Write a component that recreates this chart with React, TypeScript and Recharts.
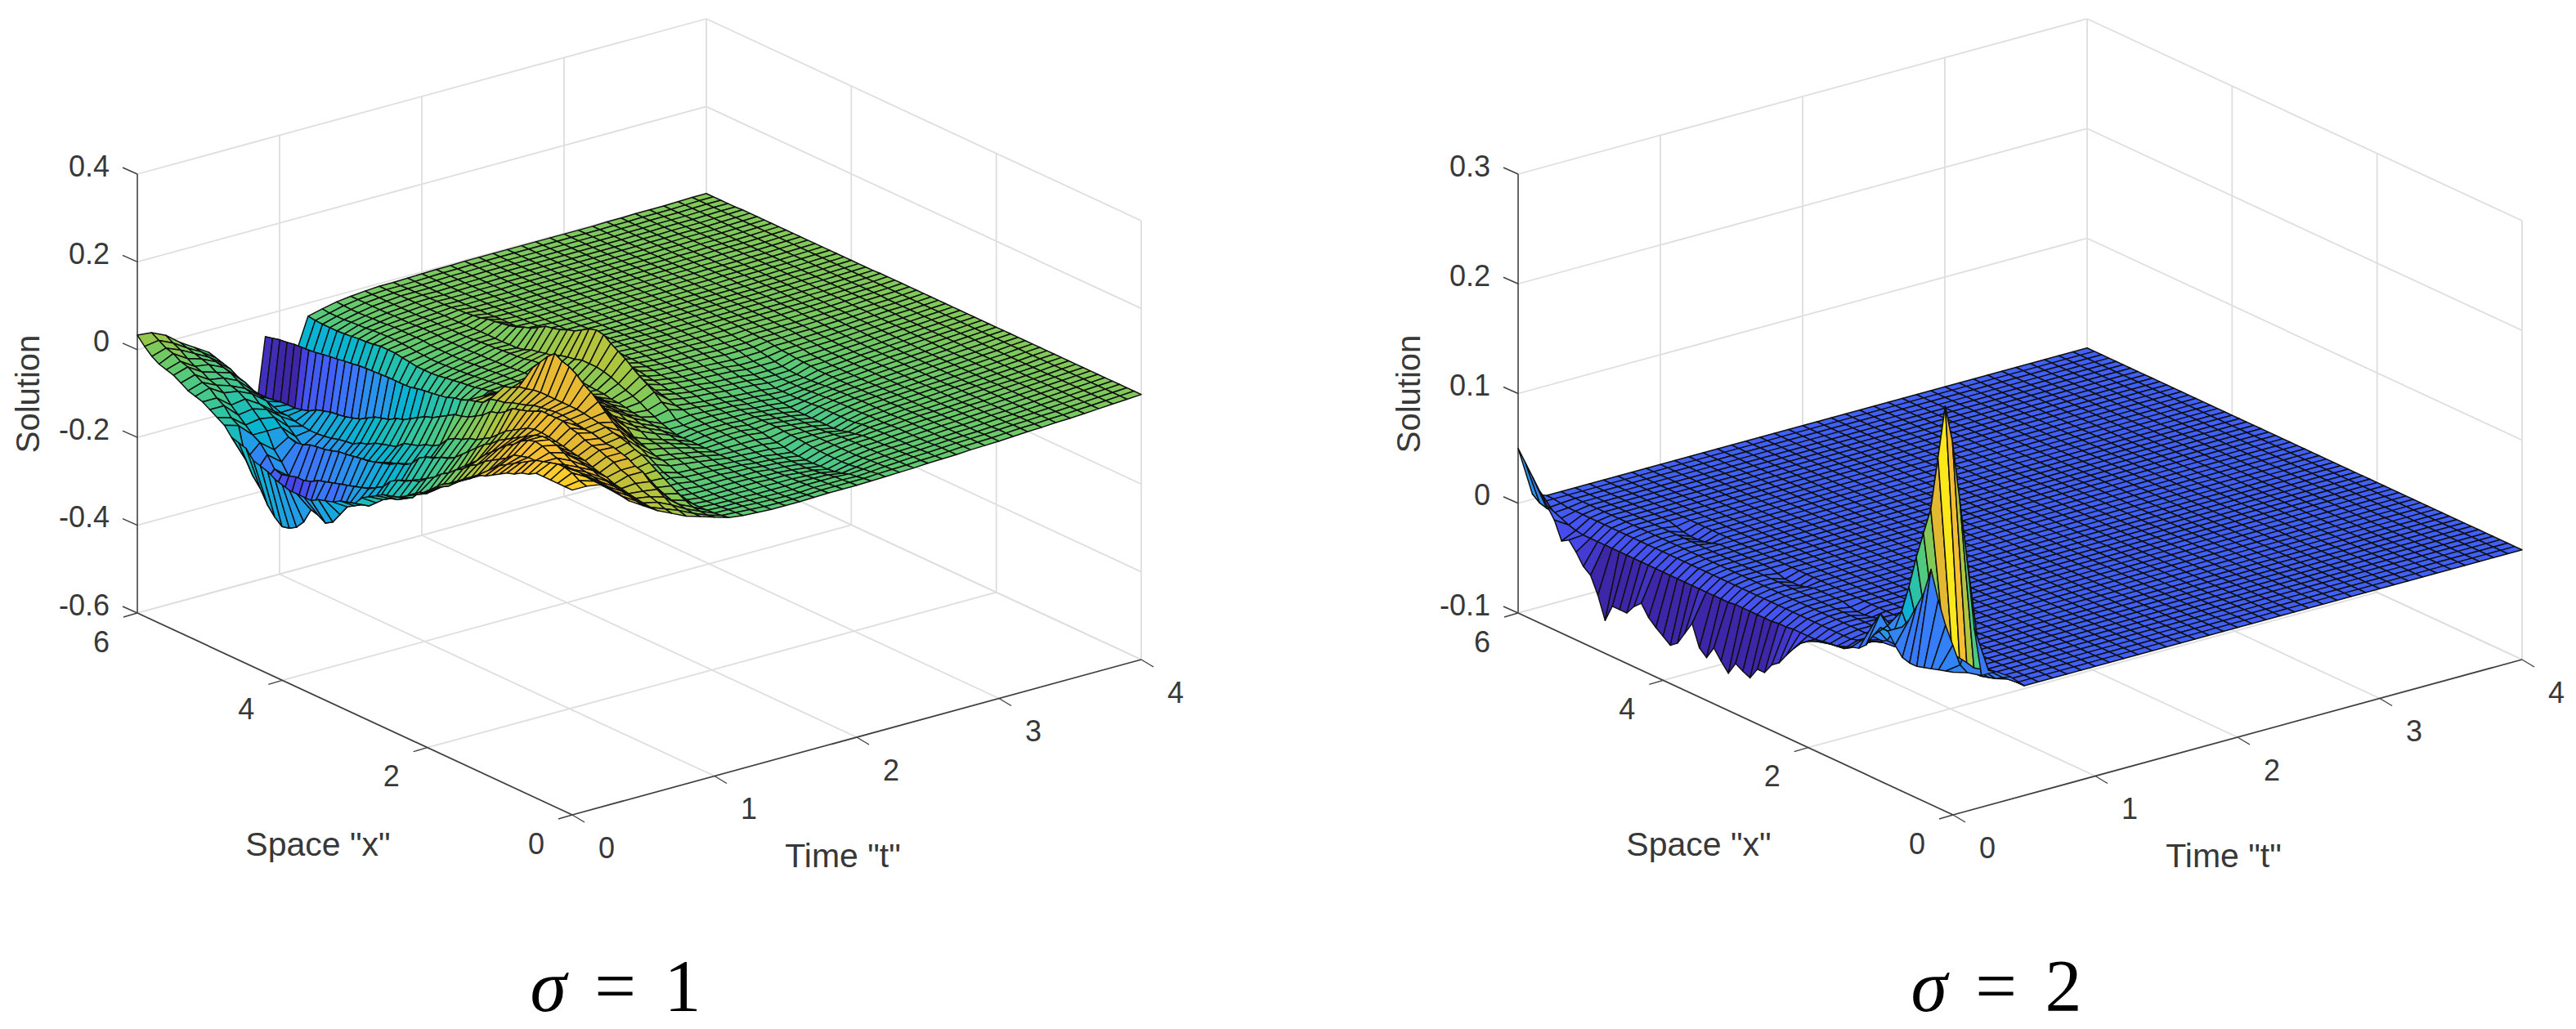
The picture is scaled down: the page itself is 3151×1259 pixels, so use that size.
import { ScatterChart, Scatter, XAxis, YAxis, ReferenceLine, ReferenceDot } from "recharts";

const timeGrid = [0, 0.1, 0.2, 0.3, 0.4, 0.5, 0.6, 0.7, 0.8, 0.9, 1, 1.1, 1.2, 1.3, 1.4, 1.5, 1.6, 1.7, 1.8, 1.9, 2, 2.1, 2.2, 2.3, 2.4, 2.5, 2.6, 2.7, 2.8, 2.9, 3, 3.1, 3.2, 3.3, 3.4, 3.5, 3.6, 3.7, 3.8, 3.9, 4];
const spaceGrid = [0, 0.1, 0.2, 0.3, 0.4, 0.5, 0.6, 0.7, 0.8, 0.9, 1, 1.1, 1.2, 1.3, 1.4, 1.5, 1.6, 1.7, 1.8, 1.9, 2, 2.1, 2.2, 2.3, 2.4, 2.5, 2.6, 2.7, 2.8, 2.9, 3, 3.1, 3.2, 3.3, 3.4, 3.5, 3.6, 3.7, 3.8, 3.9, 4, 4.1, 4.2, 4.3, 4.4, 4.5, 4.6, 4.7, 4.8, 4.9, 5, 5.1, 5.2, 5.3, 5.4, 5.5, 5.6, 5.7, 5.8, 5.9, 6];
const timeTicks = [0, 1, 2, 3, 4];
const spaceTicks = [0, 2, 4, 6];
const solutionTicksA = [-0.6, -0.4, -0.2, 0, 0.2, 0.4];
const solutionTicksB = [-0.1, 0, 0.1, 0.2, 0.3];

// sigma = 1, one row per time step, columns follow spaceGrid (blocks of ten)
const solutionA = [
  [.14,.14,.14,.14,.14,.14,.13,.125,.115,.11, .10,.09,.08,.075,.06,.05,.035,.025,.015,0, -.015,-.03,-.04,-.05,-.06,-.065,-.07,-.08,-.09,-.10, -.12,-.125,-.13,-.14,-.145,-.15,-.16,-.16,-.16,-.16, -.155,-.15,-.14,-.135,-.13,-.11,-.105,-.10,-.08,-.07, -.06,-.05,-.045,-.04,-.03,-.02,-.015,-.01,0,.015, .033],
  [.14,.145,.155,.16,.16,.155,.15,.145,.135,.125, .115,.105,.095,.08,.06,.05,.035,.025,.01,-.005, -.015,-.03,-.045,-.05,-.07,-.08,-.09,-.095,-.105,-.12, -.135,-.14,-.15,-.16,-.185,-.21,-.22,-.21,-.205,-.24, -.26,-.27,-.274,-.26,-.24,-.21,-.19,-.16,-.09,-.08, -.06,-.05,-.035,-.03,-.02,-.01,-.005,.005,.01,.02, .03],
  [.135,.135,.137,.14,.14,.135,.13,.127,.125,.12, .12,.115,.11,.095,.085,.075,.065,.05,.04,.025, .015,0,-.01,-.025,-.035,-.05,-.055,-.065,-.07,-.08, -.10,-.11,-.12,-.125,-.13,-.135,-.14,-.145,-.15,-.155, -.165,-.17,-.17,-.175,-.18,-.175,-.15,-.13,-.12,-.105, -.09,-.075,-.055,-.045,-.04,-.03,-.025,-.015,-.003,.005, .015],
  [.11,.11,.112,.115,.115,.115,.115,.118,.125,.13, .137,.14,.135,.125,.11,.10,.085,.07,.055,.035, .02,0,-.015,-.025,-.04,-.055,-.06,-.075,-.08,-.09, -.11,-.12,-.125,-.135,-.145,-.15,-.165,-.175,-.18,-.185, -.195,-.2,-.21,-.21,-.21,-.2,-.175,-.155,-.12,-.10, -.085,-.07,-.06,-.055,-.045,-.04,-.03,-.025,-.02,-.015, -.01],
  [.08,.083,.087,.09,.093,.097,.10,.103,.11,.12, .13,.135,.135,.13,.12,.11,.10,.09,.08,.065, .055,.04,.025,.01,-.005,-.015,-.02,-.03,-.035,-.045, -.065,-.075,-.08,-.09,-.095,-.10,-.105,-.107,-.11,-.113, -.115,-.12,-.125,-.127,-.13,-.137,-.14,-.135,-.12,-.105, -.095,-.09,-.075,-.07,-.06,-.05,-.045,-.04,-.037,-.033, -.03],
  [.06,.063,.067,.07,.073,.077,.08,.087,.09,.095, .097,.10,.103,.102,.10,.10,.09,.08,.07,.055, .04,.03,.015,0,-.01,-.025,-.03,-.04,-.045,-.055, -.075,-.085,-.09,-.10,-.105,-.11,-.12,-.125,-.13,-.14, -.145,-.15,-.16,-.163,-.165,-.17,-.168,-.165,-.15,-.135, -.12,-.115,-.10,-.095,-.09,-.08,-.075,-.065,-.06,-.055, -.05],
  [.04,.04,.042,.045,.048,.052,.055,.062,.065,.07, .077,.08,.083,.087,.09,.093,.095,.095,.09,.08, .07,.06,.045,.03,.02,.01,.005,-.005,-.01,-.02, -.04,-.05,-.055,-.065,-.07,-.075,-.09,-.095,-.10,-.105, -.115,-.12,-.13,-.132,-.135,-.14,-.143,-.145,-.145,-.143, -.14,-.135,-.135,-.13,-.125,-.12,-.115,-.11,-.11,-.105, -.10],
  [.025,.028,.035,.04,.045,.055,.065,.07,.08,.085, .092,.095,.10,.108,.112,.12,.12,.12,.12,.112, .105,.10,.095,.08,.07,.065,.05,.04,.03,.024, .02,.01,0,-.01,-.015,-.025,-.035,-.045,-.05,-.06, -.065,-.07,-.08,-.09,-.095,-.10,-.103,-.105,-.11,-.115, -.125,-.13,-.134,-.134,-.135,-.138,-.14,-.14,-.14,-.14, -.14],
  [.01,.015,.02,.03,.04,.05,.065,.07,.08,.085, .09,.09,.095,.10,.10,.10,.095,.09,.085,.08, .07,.065,.055,.05,.04,.03,.02,.01,0,-.01, -.02,-.035,-.045,-.07,-.075,-.08,-.085,-.09,-.115,-.12, -.125,-.13,-.16,-.17,-.175,-.18,-.2,-.21,-.215,-.22, -.24,-.24,-.245,-.25,-.28,-.32,-.33,-.325,-.31,-.305, -.30],
  [0,0,.002,.005,.007,.013,.02,.027,.033,.04, .047,.05,.06,.067,.07,.075,.077,.08,.083,.085, .085,.082,.08,.077,.07,.065,.06,.053,.05,.045, .03,.025,.02,.013,.01,.003,0,-.003,-.005,-.008, -.012,-.013,-.013,-.013,-.014,-.015,-.016,-.017,-.02,-.022, -.025,-.027,-.03,-.033,-.035,-.036,-.037,-.04,-.042,-.046, -.05],
  [-.01,-.013,-.012,-.01,-.003,.005,.015,.025,.035,.045, .055,.06,.067,.072,.075,.08,.082,.085,.088,.09, .09,.09,.09,.09,.09,.088,.083,.08,.07,.065, .04,.03,.02,0,-.01,-.02,-.03,-.033,-.035,-.04, -.043,-.045,-.05,-.053,-.055,-.06,-.06,-.06,-.065,-.068, -.07,-.073,-.075,-.08,-.083,-.085,-.09,-.09,-.09,-.09, -.09],
  [-.02,-.023,-.025,-.026,-.027,-.027,-.026,-.025,-.024,-.02, -.02,-.01,.006,.03,.05,.063,.075,.09,.106,.12, .13,.145,.155,.16,.17,.155,.135,.115,.08,.05, .03,.023,.018,.01,-.01,-.025,-.03,-.035,-.045,-.05, -.055,-.063,-.07,-.073,-.078,-.08,-.083,-.087,-.09,-.097, -.103,-.11,-.113,-.117,-.12,-.123,-.125,-.125,-.123,-.12, -.12],
  [-.024,-.025,-.026,-.028,-.029,-.03,-.03,-.028,-.025,-.02, -.015,-.01,0,.01,.02,.03,.04,.05,.06,.07, .078,.085,.088,.09,.095,.088,.08,.07,.055,.045, .03,.015,.008,0,-.004,-.009,-.012,-.016,-.018,-.02, -.023,-.025,-.028,-.03,-.03,-.03,-.027,-.025,-.022,-.022, -.022,-.025,-.027,-.028,-.03,-.032,-.033,-.033,-.033,-.032, -.03],
  [-.026,-.027,-.027,-.028,-.03,-.03,-.03,-.029,-.028,-.025, -.022,-.02,-.012,-.007,-.005,.002,.008,.015,.03,.037, .042,.05,.052,.055,.06,.057,.053,.045,.035,.025, .015,.008,.003,0,-.003,-.006,-.008,-.011,-.013,-.015, -.017,-.018,-.02,-.021,-.022,-.022,-.021,-.02,-.018,-.017, -.016,-.016,-.017,-.018,-.02,-.021,-.022,-.024,-.024,-.024, -.022],
  [-.028,-.029,-.029,-.03,-.03,-.03,-.03,-.029,-.028,-.026, -.024,-.022,-.016,-.012,-.01,-.004,0,.002,.012,.017, .022,.03,.033,.036,.04,.039,.035,.03,.023,.017, .01,.005,.002,0,-.001,-.004,-.006,-.007,-.008,-.01, -.011,-.012,-.014,-.015,-.015,-.015,-.015,-.014,-.012,-.012, -.012,-.012,-.012,-.013,-.015,-.015,-.016,-.017,-.017,-.016, -.015],
  [-.028,-.03,-.03,-.031,-.032,-.031,-.03,-.029,-.028,-.026, -.025,-.024,-.02,-.018,-.016,-.012,-.009,-.008,-.002,.002, .005,.01,.012,.015,.018,.02,.02,.018,.015,.012, .01,.008,.005,.004,.001,0,-.002,-.003,-.005,-.006, -.007,-.008,-.008,-.009,-.01,-.01,-.01,-.01,-.008,-.008, -.008,-.009,-.01,-.01,-.01,-.011,-.011,-.011,-.011,-.011, -.011],
  [-.028,-.03,-.031,-.032,-.032,-.031,-.03,-.03,-.03,-.029, -.028,-.028,-.025,-.023,-.022,-.02,-.019,-.018,-.014,-.012, -.009,-.006,-.004,-.002,.002,.005,.006,.01,.011,.012, .014,.015,.016,.016,.015,.014,.012,.01,.006,.004, .003,.002,0,-.001,-.002,-.004,-.005,-.005,-.005,-.006, -.006,-.006,-.007,-.008,-.008,-.008,-.008,-.008,-.008,-.008, -.008],
  [-.027,-.029,-.031,-.032,-.032,-.032,-.032,-.032,-.03,-.03, -.03,-.03,-.03,-.03,-.03,-.03,-.03,-.03,-.03,-.03, -.025,-.02,-.012,-.005,.005,.012,.018,.025,.032,.037, .04,.04,.04,.035,.032,.028,.02,.017,.013,.01, .003,-.001,-.001,-.002,-.002,-.002,-.002,-.003,-.003,-.004, -.004,-.004,-.005,-.005,-.005,-.005,-.005,-.005,-.006,-.006, -.006],
  [-.026,-.027,-.029,-.03,-.031,-.032,-.032,-.033,-.034,-.034, -.034,-.034,-.032,-.031,-.03,-.028,-.027,-.026,-.025,-.025, -.025,-.02,-.005,.005,.02,.03,.04,.052,.065,.075, .085,.097,.10,.095,.085,.075,.07,.063,.058,.055, .045,.035,.03,.023,.018,.015,.012,.01,.005,.003, .001,0,-.002,-.003,-.003,-.004,-.004,-.005,-.005,-.006, -.006],
  [-.026,-.027,-.029,-.03,-.032,-.034,-.035,-.036,-.036,-.036, -.036,-.035,-.034,-.032,-.03,-.026,-.025,-.024,-.024,-.023, -.021,-.018,-.014,-.012,-.006,-.002,0,.006,.009,.012, .016,.018,.02,.022,.022,.02,.018,.015,.013,.01, .007,.006,.004,.003,.002,0,0,0,-.001,-.002, -.002,-.003,-.004,-.004,-.004,-.005,-.005,-.005,-.005,-.005, -.005],
  [-.026,-.027,-.029,-.03,-.033,-.036,-.038,-.04,-.04,-.04, -.04,-.04,-.036,-.033,-.03,-.026,-.025,-.024,-.024,-.023, -.021,-.02,-.017,-.016,-.012,-.009,-.008,-.004,-.002,0, .004,.005,.006,.008,.008,.008,.008,.007,.005,.004, .003,.002,.001,0,0,-.001,-.001,-.002,-.002,-.002, -.003,-.003,-.003,-.003,-.004,-.004,-.004,-.004,-.004,-.004, -.004],
  [-.025,-.027,-.03,-.032,-.038,-.042,-.044,-.045,-.046,-.046, -.045,-.044,-.04,-.037,-.034,-.03,-.029,-.028,-.026,-.025, -.023,-.022,-.021,-.02,-.016,-.014,-.012,-.008,-.007,-.006, -.003,-.002,-.001,0,0,.001,.001,.001,.001,.001, 0,-.001,-.002,-.002,-.002,-.002,-.002,-.002,-.003,-.003, -.003,-.003,-.003,-.003,-.003,-.003,-.003,-.003,-.003,-.003, -.003],
  [-.024,-.025,-.028,-.03,-.033,-.035,-.036,-.036,-.036,-.035, -.034,-.032,-.03,-.029,-.028,-.026,-.026,-.026,-.026,-.026, -.025,-.024,-.023,-.022,-.018,-.016,-.014,-.012,-.011,-.008, -.006,-.005,-.004,-.002,-.001,-.001,0,0,0,-.001, -.001,-.001,-.002,-.002,-.002,-.002,-.002,-.002,-.002,-.002, -.003,-.003,-.003,-.003,-.003,-.003,-.003,-.003,-.003,-.003, -.003],
  [-.023,-.024,-.025,-.026,-.027,-.029,-.03,-.03,-.03,-.03, -.03,-.03,-.03,-.03,-.03,-.03,-.03,-.03,-.03,-.03, -.03,-.028,-.027,-.026,-.022,-.02,-.018,-.014,-.012,-.01, -.008,-.007,-.006,-.004,-.003,-.002,-.001,-.001,-.001,-.001, -.002,-.002,-.002,-.002,-.002,-.002,-.002,-.002,-.002,-.002, -.002,-.002,-.002,-.002,-.002,-.002,-.002,-.002,-.002,-.002, -.002],
  [-.022,-.023,-.023,-.024,-.025,-.025,-.026,-.026,-.026,-.027, -.028,-.03,-.032,-.033,-.034,-.034,-.034,-.034,-.034,-.033, -.032,-.03,-.029,-.028,-.024,-.022,-.02,-.016,-.014,-.012, -.009,-.008,-.006,-.004,-.003,-.003,-.002,-.002,-.002,-.002, -.002,-.002,-.002,-.002,-.002,-.002,-.002,-.002,-.002,-.002, -.002,-.002,-.002,-.002,-.002,-.002,-.002,-.002,-.002,-.002, -.002],
  [-.02,-.021,-.021,-.022,-.023,-.023,-.024,-.025,-.025,-.026, -.03,-.033,-.038,-.04,-.04,-.04,-.04,-.04,-.04,-.038, -.036,-.034,-.032,-.03,-.026,-.024,-.022,-.018,-.016,-.014, -.01,-.008,-.006,-.005,-.004,-.004,-.003,-.003,-.002,-.002, -.002,-.002,-.002,-.002,-.002,-.002,-.002,-.002,-.002,-.002, -.002,-.002,-.002,-.002,-.002,-.002,-.002,-.002,-.002,-.002, -.002],
  [-.019,-.02,-.02,-.021,-.022,-.022,-.022,-.022,-.022,-.023, -.024,-.025,-.028,-.03,-.03,-.03,-.03,-.03,-.032,-.033, -.034,-.034,-.034,-.034,-.03,-.028,-.026,-.022,-.02,-.016, -.012,-.01,-.008,-.006,-.005,-.004,-.003,-.003,-.002,-.002, -.002,-.002,-.002,-.002,-.002,-.002,-.002,-.002,-.002,-.002, -.002,-.002,-.002,-.002,-.002,-.002,-.002,-.002,-.002,-.002, -.002],
  [-.018,-.018,-.018,-.019,-.02,-.02,-.02,-.02,-.02,-.021, -.022,-.022,-.022,-.023,-.024,-.024,-.024,-.025,-.026,-.027, -.028,-.03,-.03,-.03,-.03,-.028,-.026,-.022,-.02,-.016, -.012,-.01,-.009,-.006,-.005,-.004,-.003,-.003,-.002,-.002, -.002,-.002,-.002,-.002,-.002,-.002,-.002,-.002,-.002,-.002, -.002,-.002,-.002,-.002,-.002,-.002,-.002,-.002,-.002,-.002, -.002],
  [-.016,-.016,-.016,-.017,-.018,-.018,-.018,-.018,-.018,-.018, -.019,-.02,-.02,-.02,-.02,-.02,-.021,-.021,-.022,-.023, -.024,-.026,-.027,-.028,-.028,-.027,-.025,-.022,-.018,-.015, -.012,-.01,-.009,-.007,-.005,-.004,-.003,-.003,-.002,-.002, -.002,-.002,-.002,-.002,-.002,-.002,-.002,-.002,-.002,-.002, -.002,-.002,-.002,-.002,-.002,-.002,-.002,-.002,-.002,-.002, -.002],
  [-.015,-.015,-.015,-.016,-.016,-.016,-.016,-.016,-.016,-.016, -.016,-.017,-.017,-.018,-.018,-.018,-.019,-.019,-.02,-.02, -.02,-.02,-.02,-.02,-.018,-.017,-.016,-.014,-.013,-.01, -.008,-.007,-.006,-.005,-.004,-.003,-.003,-.003,-.002,-.002, -.002,-.002,-.002,-.002,-.002,-.002,-.002,-.002,-.002,-.002, -.002,-.002,-.002,-.002,-.002,-.002,-.002,-.002,-.002,-.002, -.002],
  [-.014,-.014,-.014,-.015,-.015,-.015,-.015,-.015,-.015,-.015, -.016,-.016,-.016,-.016,-.016,-.017,-.017,-.017,-.018,-.018, -.018,-.018,-.018,-.018,-.017,-.016,-.015,-.012,-.011,-.01, -.008,-.007,-.006,-.005,-.004,-.003,-.003,-.003,-.002,-.002, -.002,-.002,-.002,-.002,-.002,-.002,-.002,-.002,-.002,-.002, -.002,-.002,-.002,-.002,-.002,-.002,-.002,-.002,-.002,-.002, -.002],
  [-.012,-.012,-.012,-.013,-.013,-.013,-.013,-.013,-.013,-.014, -.014,-.014,-.014,-.014,-.014,-.015,-.015,-.015,-.015,-.015, -.015,-.015,-.015,-.015,-.014,-.014,-.013,-.011,-.01,-.009, -.007,-.006,-.006,-.005,-.004,-.003,-.003,-.002,-.002,-.002, -.002,-.002,-.002,-.002,-.002,-.002,-.002,-.002,-.002,-.002, -.002,-.002,-.002,-.002,-.002,-.002,-.002,-.002,-.002,-.002, -.002],
  [-.01,-.01,-.01,-.011,-.011,-.011,-.011,-.011,-.011,-.012, -.012,-.012,-.012,-.012,-.012,-.013,-.013,-.013,-.013,-.013, -.013,-.013,-.012,-.012,-.012,-.011,-.011,-.01,-.009,-.008, -.007,-.006,-.006,-.005,-.004,-.003,-.003,-.002,-.002,-.002, -.002,-.002,-.002,-.002,-.002,-.002,-.002,-.002,-.002,-.002, -.002,-.002,-.002,-.002,-.002,-.002,-.002,-.002,-.002,-.002, -.002],
  [-.009,-.009,-.009,-.009,-.01,-.01,-.01,-.01,-.01,-.01, -.01,-.01,-.01,-.011,-.011,-.011,-.011,-.011,-.011,-.011, -.011,-.01,-.01,-.01,-.01,-.009,-.009,-.008,-.007,-.007, -.006,-.005,-.005,-.004,-.003,-.003,-.003,-.002,-.002,-.002, -.002,-.002,-.002,-.001,-.001,-.001,-.001,-.001,-.001,-.001, -.001,-.001,-.001,-.001,-.001,-.001,-.001,-.001,-.001,-.001, -.001],
  [-.007,-.007,-.007,-.008,-.008,-.008,-.008,-.008,-.008,-.008, -.008,-.008,-.009,-.009,-.009,-.009,-.009,-.009,-.009,-.009, -.009,-.009,-.008,-.008,-.008,-.007,-.007,-.006,-.006,-.006, -.005,-.004,-.004,-.003,-.003,-.003,-.002,-.002,-.001,-.001, -.001,-.001,-.001,-.001,-.001,-.001,-.001,-.001,-.001,-.001, -.001,-.001,-.001,-.001,-.001,-.001,-.001,-.001,-.001,-.001, -.001],
  [-.006,-.006,-.006,-.006,-.006,-.006,-.006,-.006,-.006,-.006, -.006,-.007,-.007,-.007,-.007,-.007,-.007,-.007,-.007,-.007, -.007,-.007,-.006,-.006,-.006,-.005,-.005,-.005,-.004,-.004, -.004,-.003,-.003,-.003,-.002,-.002,-.001,-.001,-.001,-.001, -.001,-.001,-.001,-.001,-.001,-.001,-.001,-.001,0,0, 0,0,0,0,0,0,0,0,0,0, 0],
  [-.004,-.004,-.004,-.004,-.004,-.004,-.004,-.004,-.004,-.004, -.005,-.005,-.005,-.005,-.005,-.005,-.005,-.005,-.005,-.005, -.005,-.004,-.004,-.004,-.004,-.003,-.003,-.003,-.003,-.003, -.002,-.002,-.002,-.001,-.001,-.001,-.001,-.001,0,0, 0,0,0,0,0,0,0,0,0,0, 0,0,0,0,0,0,0,0,0,0, 0],
  [-.002,-.002,-.002,-.002,-.002,-.002,-.002,-.002,-.002,-.003, -.003,-.003,-.003,-.003,-.003,-.003,-.003,-.003,-.003,-.002, -.002,-.002,-.002,-.002,-.002,-.002,-.002,-.002,-.001,-.001, -.001,-.001,0,0,0,0,0,0,0,0, 0,0,0,0,0,0,0,0,0,0, 0,0,0,0,0,0,0,0,0,0, 0],
  [0,0,0,0,0,0,0,0,0,-.001, -.001,-.001,-.001,-.001,-.001,-.001,-.001,-.001,-.001,0, 0,0,0,0,0,0,0,0,0,0, 0,0,.001,.001,.001,.001,.001,.001,.001,.001, .001,.001,.001,.001,.001,.001,.001,.001,.001,.001, .001,.001,.001,.001,.001,.001,.001,.001,.001,.001, .001],
  [.002,.002,.002,.002,.002,.002,.002,.002,.002,.002, .002,.002,.002,.002,.002,.002,.002,.002,.002,.002, .002,.002,.002,.002,.002,.002,.002,.002,.002,.002, .002,.002,.002,.002,.002,.002,.002,.002,.002,.002, .002,.002,.002,.002,.002,.002,.002,.002,.002,.002, .002,.002,.002,.002,.002,.002,.002,.002,.002,.002, .002],
  [.004,.004,.004,.004,.004,.004,.004,.004,.004,.004, .004,.004,.004,.004,.004,.004,.004,.004,.004,.004, .004,.004,.004,.004,.004,.004,.004,.004,.004,.004, .004,.004,.004,.004,.004,.004,.004,.003,.003,.003, .003,.003,.003,.003,.003,.003,.003,.003,.003,.003, .003,.003,.003,.003,.003,.003,.002,.002,.002,.002, .002],
];

// sigma = 2, flat everywhere past the first few time steps
const flatRow = [0,0,0,0,0,0,0,0,0,0, 0,0,0,0,0,0,0,0,0,0, 0,0,0,0,0,0,0,0,0,0, 0,0,0,0,0,0,0,0,0,0, 0,0,0,0,0,0,0,0,0,0, 0,0,0,0,0,0,0,0,0,0, 0];
const solutionB = [
  [.03,.028,.026,.024,.022,.02,.02,.022,.03,.04, .04,.03,.018,.012,.01,.006,.005,.004,.003,0, -.003,-.008,-.016,-.025,-.035,-.04,-.05,-.05,-.061,-.058, -.054,-.066,-.058,-.049,-.061,-.055,-.036,-.048,-.06,-.065, -.06,-.055,-.049,-.039,-.045,-.054,-.054,-.054,-.07,-.05, -.035,-.03,-.02,-.012,-.016,0,.01,.02,.03,.04, .05],
  [.026,.03,.045,.06,.08,.105,.08,.065,.05,.04, .03,.035,.043,.03,.015,.005,0,-.004,-.005,-.006, -.007,-.008,-.008,-.008,-.008,-.009,-.009,-.01,-.01,-.01, -.01,-.01,-.01,-.011,-.011,-.011,-.011,-.011,-.011,-.011, -.011,-.011,-.011,-.011,-.011,-.011,-.011,-.011,-.011,-.011, -.011,-.011,-.011,-.011,-.01,-.008,-.005,-.003,-.002,0, .005],
  [.02,.06,.12,.17,.22,.25,.20,.15,.125,.10, .07,.045,.025,.012,.008,.005,.003,0,-.002,-.002, -.002,-.002,-.002,-.002,-.002,-.002,-.002,-.002,-.002,-.002, -.002,-.002,-.002,-.002,-.002,-.002,-.002,-.002,-.002,-.002, -.002,-.002,-.002,-.002,-.002,-.002,-.002,-.002,-.002,-.002, -.002,-.002,-.002,-.002,-.002,-.002,-.002,-.002,-.001,0, 0],
  [.02,.018,.016,.014,.016,.017,.018,.017,.014,.01, .007,.006,.004,.002,0,0,0,0,0,0, 0,0,0,0,0,0,0,0,0,0, 0,0,0,0,0,0,0,0,0,0, 0,0,0,0,0,0,0,0,0,0, 0,0,0,0,0,0,0,0,0,0, 0],
  [.012,.008,.004,.002,0,0,0,0,0,0, 0,0,0,0,0,0,0,0,0,0, 0,0,0,0,0,0,0,0,0,0, 0,0,0,0,0,0,0,0,0,0, 0,0,0,0,0,0,0,0,0,0, 0,0,0,0,0,0,0,0,0,0, 0],
  [0,0,0,0,0,0,0,0,0,0, 0,0,0,0,0,0,0,0,0,0, 0,-.002,-.003,-.003,-.002,0,0,0,0,0, -.002,-.004,-.004,-.004,-.002,0,0,0,0,0, 0,0,0,-.002,-.004,-.005,-.005,-.004,-.002,0, 0,0,0,0,0,0,0,0,0,0, 0],
  flatRow, flatRow, flatRow, flatRow, flatRow, flatRow, flatRow, flatRow, flatRow, flatRow, flatRow, flatRow, flatRow, flatRow,
  flatRow, flatRow, flatRow, flatRow, flatRow, flatRow, flatRow, flatRow, flatRow, flatRow, flatRow, flatRow, flatRow, flatRow, flatRow,
  flatRow, flatRow, flatRow, flatRow, flatRow, flatRow,
];

const PARULA = ["#3e26a8", "#4747eb", "#3e6fff", "#2796eb", "#08b5d0", "#31c69f", "#62ca6e", "#a9c73f", "#e2b832", "#fdc032", "#f9fb0e"];

const hexToRgb = (h: string) => [1, 3, 5].map((k) => parseInt(h.slice(k, k + 2), 16));

function parula(frac: number) {
  const f = Math.min(1, Math.max(0, frac)) * (PARULA.length - 1);
  const lo = Math.min(PARULA.length - 2, Math.floor(f));
  const a = hexToRgb(PARULA[lo]);
  const b = hexToRgb(PARULA[lo + 1]);
  const c = a.map((v, k) => Math.round(v + (b[k] - v) * (f - lo)));
  return `rgb(${c[0]},${c[1]},${c[2]})`;
}

const CHART_W = 1575;
const CHART_H = 1259;
const FONT = '"Liberation Sans", Arial, sans-serif';
const TEXT = "#383838";

type PanelProps = {
  left: number;
  frontX: number;
  rows: number[][];
  zTicks: number[];
  colorLow: number;
  colorHigh: number;
  sigma: string;
  rowOrder: number[];
};

// back to front; the sigma = 2 spike needs its yellow face over the row in front of it
const descendingRows = [39, 38, 37, 36, 35, 34, 33, 32, 31, 30, 29, 28, 27, 26, 25, 24, 23, 22, 21, 20, 19, 18, 17, 16, 15, 14, 13, 12, 11, 10, 9, 8, 7, 6, 5, 4, 3, 2, 1, 0];
const spikeRows = [39, 38, 37, 36, 35, 34, 33, 32, 31, 30, 29, 28, 27, 26, 25, 24, 23, 22, 21, 20, 19, 18, 17, 16, 15, 14, 13, 12, 11, 10, 9, 8, 7, 6, 5, 4, 3, 1, 2, 0];

function TextAt({ x, y, value, size = 36, anchor = "middle", rotate }: any) {
  return (
    <ReferenceDot
      x={x}
      y={y}
      r={0}
      ifOverflow="visible"
      shape={(p: any) => (
        <text
          x={p.cx}
          y={p.cy}
          fontFamily={FONT}
          fontSize={size}
          fill={TEXT}
          textAnchor={anchor}
          dominantBaseline="central"
          transform={rotate ? `rotate(${rotate} ${p.cx} ${p.cy})` : undefined}
        >
          {value}
        </text>
      )}
    />
  );
}

function SurfacePanel({ left, frontX, rows, zTicks, colorLow, colorHigh, sigma, rowOrder }: PanelProps) {
  const zMin = zTicks[0];
  const zMax = zTicks[zTicks.length - 1];

  // fixed view of the box, orthographic like the MATLAB default
  const project = (t: number, x: number, z: number) => ({
    sx: frontX + (t / 4) * 696 - (x / 6) * 532,
    sy: 997 - (t / 4) * 190 - (x / 6) * 247 - ((z - zMin) / (zMax - zMin)) * 537,
  });

  const vertices = timeGrid.flatMap((t, i) =>
    spaceGrid.map((x, j) => project(t, x, rows[i][j] ?? 0))
  );

  const renderMesh = (props: any) => {
    const pts = props.points;
    const n = spaceGrid.length;
    const cells = [];
    for (const i of rowOrder) {
      for (let j = n - 2; j >= 0; j--) {
        const a = pts[i * n + j];
        const b = pts[(i + 1) * n + j];
        const c = pts[(i + 1) * n + j + 1];
        const d = pts[i * n + j + 1];
        const value = rows[i][j] ?? 0;
        cells.push(
          <polygon
            key={`${i}-${j}`}
            points={`${a.x},${a.y} ${b.x},${b.y} ${c.x},${c.y} ${d.x},${d.y}`}
            fill={parula((value - colorLow) / (colorHigh - colorLow))}
            stroke="#101010"
            strokeWidth={1.5}
            strokeLinejoin="round"
          />
        );
      }
    }
    return <g>{cells}</g>;
  };

  const seg = (a: any, b: any) => [
    { x: a.sx, y: a.sy },
    { x: b.sx, y: b.sy },
  ] as any;

  const gridLine = (key: string, a: any, b: any) => (
    <ReferenceLine key={key} segment={seg(a, b)} stroke="#dedede" strokeWidth={1.8} ifOverflow="visible" />
  );
  const axisLine = (key: string, a: any, b: any, w = 1.8) => (
    <ReferenceLine key={key} segment={seg(a, b)} stroke="#404040" strokeWidth={w} ifOverflow="visible" />
  );
  const shift = (p: any, dx: number, dy: number) => ({ sx: p.sx + dx, sy: p.sy + dy });

  return (
    <div style={{ position: "absolute", left, top: 0 }}>
      <ScatterChart width={CHART_W} height={CHART_H} margin={{ top: 0, right: 0, bottom: 0, left: 0 }}>
        <XAxis type="number" dataKey="sx" domain={[0, CHART_W]} hide />
        <YAxis type="number" dataKey="sy" domain={[0, CHART_H]} reversed hide />

        {zTicks.map((z) => gridLine(`wl${z}`, project(0, 6, z), project(4, 6, z)))}
        {zTicks.map((z) => gridLine(`wr${z}`, project(4, 6, z), project(4, 0, z)))}
        {timeTicks.slice(1).map((t) => gridLine(`vt${t}`, project(t, 6, zMin), project(t, 6, zMax)))}
        {spaceTicks.slice(0, -1).map((x) => gridLine(`vx${x}`, project(4, x, zMin), project(4, x, zMax)))}
        {timeTicks.slice(1).map((t) => gridLine(`ft${t}`, project(t, 0, zMin), project(t, 6, zMin)))}
        {spaceTicks.slice(1).map((x) => gridLine(`fx${x}`, project(0, x, zMin), project(4, x, zMin)))}

        {axisLine("zAxis", project(0, 6, zMin), project(0, 6, zMax), 1.6)}
        {axisLine("xAxis", project(0, 6, zMin), project(0, 0, zMin))}
        {axisLine("tAxis", project(0, 0, zMin), project(4, 0, zMin))}
        {zTicks.map((z) => axisLine(`zt${z}`, project(0, 6, z), shift(project(0, 6, z), -18, -8), 1.4))}
        {spaceTicks.map((x) => axisLine(`xt${x}`, project(0, x, zMin), shift(project(0, x, zMin), -17, 5), 1.4))}
        {timeTicks.map((t) => axisLine(`tt${t}`, project(t, 0, zMin), shift(project(t, 0, zMin), 15, 9), 1.4))}

        <Scatter
          data={vertices}
          isAnimationActive={false}
          line={renderMesh}
          shape={() => null}
          fill="none"
        />

        {zTicks.map((z) => {
          const p = project(0, 6, z);
          return <TextAt key={`zl${z}`} x={p.sx - 34} y={p.sy - 10} value={String(z)} anchor="end" />;
        })}
        {spaceTicks.map((x) => {
          const p = project(0, x, zMin);
          return <TextAt key={`xl${x}`} x={p.sx - 44} y={p.sy + 35} value={String(x)} />;
        })}
        {timeTicks.map((t) => {
          const p = project(t, 0, zMin);
          return <TextAt key={`tl${t}`} x={p.sx + 42} y={p.sy + 40} value={String(t)} />;
        })}
        <TextAt x={frontX - 311} y={1033} value={'Space "x"'} size={41} />
        <TextAt x={frontX + 331} y={1047} value={'Time "t"'} size={41} />
        <TextAt x={frontX - 666} y={482} value="Solution" size={40} rotate={-90} />

        <ReferenceDot
          x={frontX + 53}
          y={1206}
          r={0}
          ifOverflow="visible"
          shape={(p: any) => (
            <text
              x={p.cx}
              y={p.cy}
              fontFamily='"Liberation Serif", serif'
              fontSize={90}
              fill="#000"
              textAnchor="middle"
              dominantBaseline="central"
              wordSpacing={12}
            >
              <tspan fontStyle="italic">σ</tspan> = {sigma}
            </text>
          )}
        />
      </ScatterChart>
    </div>
  );
}

export default function App() {
  return (
    <div style={{ position: "absolute", left: 0, top: 0, width: 3151, height: 1259, background: "#fff" }}>
      <SurfacePanel left={0} frontX={700} rows={solutionA} zTicks={solutionTicksA} colorLow={-0.32} colorHigh={0.18} sigma="1" rowOrder={descendingRows} />
      <SurfacePanel left={1575} frontX={814} rows={solutionB} zTicks={solutionTicksB} colorLow={-0.05} colorHigh={0.26} sigma="2" rowOrder={spikeRows} />
    </div>
  );
}
